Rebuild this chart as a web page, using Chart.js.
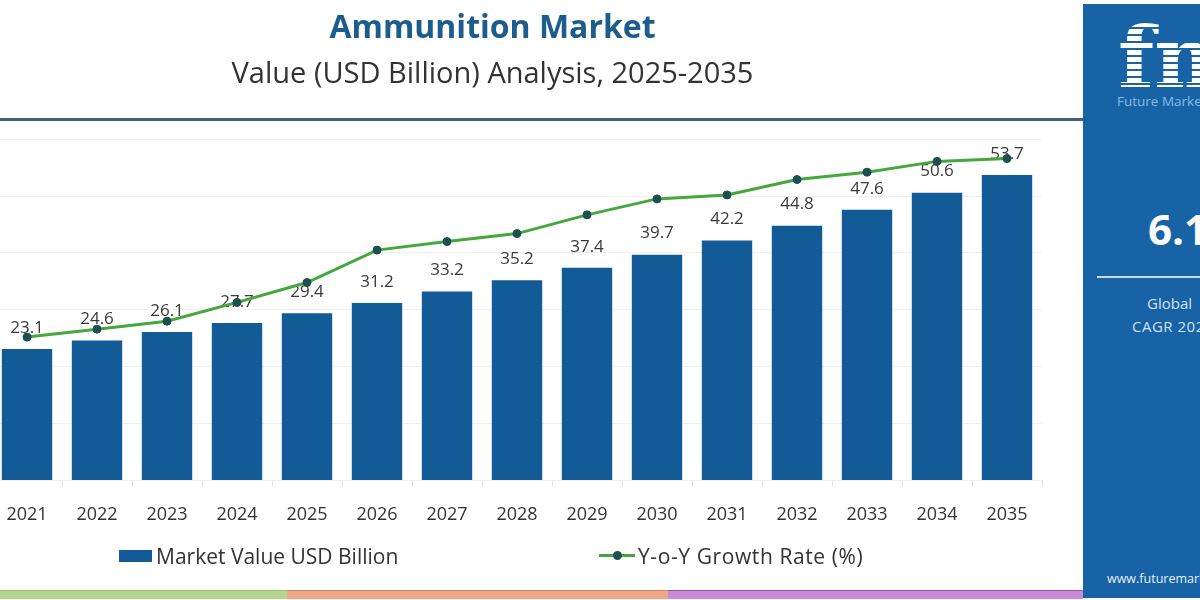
<!DOCTYPE html>
<html>
<head>
<meta charset="utf-8">
<script src="https://cdn.jsdelivr.net/npm/chart.js@4/dist/chart.umd.min.js"></script>
<style>
	body { margin: 0; width: 1200px; height: 600px; overflow: hidden; background: #fff; position: relative; font-family: "Open Sans", sans-serif; }
	#chart-wrap { position: absolute; left: -62px; top: 0; width: 1109px; height: 558px; }
	#rule { position: absolute; left: 0; top: 118px; width: 1083px; height: 3px; background: #41627f; }
	.strip { position: absolute; top: 590px; height: 8px; }
	#legend .item { position: absolute; top: 543px; height: 26px; line-height: 26px; font-size: 21px; color: #333; white-space: nowrap; }
	#legend .box { position: absolute; top: 7px; width: 33px; height: 12px; }
	#legend .ln { position: absolute; top: 11px; width: 36px; height: 3px; }
	#legend .dot { position: absolute; top: 8px; left: 14px; width: 9px; height: 9px; border-radius: 50%; }
	#panel { position: absolute; left: 1083px; top: 4px; width: 117px; height: 594px; background: #1863a6; overflow: hidden; color: #fff; }
	#panel div { position: absolute; white-space: nowrap; }
	#logo { left: 35px; top: 4px; font: bold 84px "DejaVu Serif", serif; background: repeating-linear-gradient(to bottom, #fff 0 5px, #1863a6 5px 7px); -webkit-background-clip: text; background-clip: text; color: transparent; }
</style>
</head>
<body>
<div id="chart-wrap"><canvas id="marketChart"></canvas></div>
<div id="rule"></div>
<div id="legend"></div>
<div class="strip" style="left:0;width:287px;background:#b3d58e;border-top:1px solid #98c06f"></div>
<div class="strip" style="left:287px;width:381px;background:#efa78a;border-top:1px solid #d8815f"></div>
<div class="strip" style="left:668px;width:415px;background:#c98ad6;border-top:1px solid #9a55ab"></div>
<div id="panel">
	<div id="logo">fmi</div>
	<div style="left:34px;top:88px;font-size:13.5px;color:#86bbe8">Future Market Insights</div>
	<div style="left:65px;top:196px;font-size:42px;font-weight:bold">6.1%</div>
	<div style="left:14px;top:272px;width:120px;height:2px;background:#c4dcf2"></div>
	<div style="left:64px;top:289px;font-size:15px;color:#cfe2f4">Global</div>
	<div style="left:49px;top:312px;font-size:15px;color:#cfe2f4;letter-spacing:0.5px">CAGR 2025-2035</div>
	<div style="left:24px;top:566px;font-size:12.5px;color:#e6f0fa">www.futuremarketinsights.com</div>
</div>
<script>
// values
var years = ['2021', '2022', '2023', '2024', '2025', '2026', '2027', '2028', '2029', '2030', '2031', '2032', '2033', '2034', '2035'];
var marketValue = [23.1, 24.6, 26.1, 27.7, 29.4, 31.2, 33.2, 35.2, 37.4, 39.7, 42.2, 44.8, 47.6, 50.6, 53.7];
// growth line has no printed values, plotted on a hidden axis by its position
var yoyGrowth = [25.2, 26.6, 28.0, 31.3, 34.8, 40.5, 42.0, 43.4, 46.7, 49.5, 50.2, 52.9, 54.2, 56.1, 56.6];

var barColor = '#135b96';
var lineColor = '#44a83e';
var dotColor = '#1d4f50';

Chart.defaults.font.family = '"Open Sans", sans-serif';

var barLabels = {
	id: 'barLabels',
	afterDatasetDraw: function(chart, args) {
		if(args.index !== 1) { return; }
		var ctx = chart.ctx;
		ctx.save();
		ctx.font = '17px "Open Sans"';
		ctx.fillStyle = '#3a3a3a';
		ctx.textAlign = 'center';
		ctx.textBaseline = 'middle';
		args.meta.data.forEach(function(bar, i) {
			ctx.fillText(marketValue[i].toFixed(1), bar.x, bar.y - 21);
		});
		ctx.restore();
	}
};

var ctx = document.getElementById('marketChart').getContext('2d');
var chart = new Chart(ctx, {
	type: 'bar',
	data: {
		labels: years,
		datasets: [{
			type: 'line',
			label: 'Y-o-Y Growth Rate (%)',
			data: yoyGrowth,
			yAxisID: 'y2',
			order: 0,
			borderColor: lineColor,
			borderWidth: 3,
			tension: 0,
			pointRadius: 4,
			pointBackgroundColor: dotColor,
			pointBorderColor: dotColor,
			pointBorderWidth: 1
		}, {
			label: 'Market Value USD Billion',
			data: marketValue,
			yAxisID: 'y',
			order: 1,
			backgroundColor: barColor,
			categoryPercentage: 1,
			barPercentage: 0.72
		}]
	},
	options: {
		responsive: true,
		maintainAspectRatio: false,
		animation: false,
		layout: { padding: { left: 0, right: 0, top: 0, bottom: 14 } },
		plugins: {
			legend: { display: false },
			tooltip: { enabled: false },
			title: {
				display: true,
				text: 'Ammunition Market',
				color: '#1d5d8e',
				font: { size: 32, weight: 'bold' },
				padding: { top: 10, bottom: 0 }
			},
			subtitle: {
				display: true,
				text: 'Value (USD Billion) Analysis, 2025-2035',
				color: '#333',
				font: { size: 29 },
				padding: { top: 9, bottom: 47 }
			}
		},
		scales: {
			x: {
				grid: { drawOnChartArea: false, drawTicks: true, tickLength: 6, color: '#e2e2e2' },
				border: { display: false },
				ticks: { color: '#333', font: { size: 18 }, padding: 18, maxRotation: 0, autoSkip: false }
			},
			y: {
				min: 0,
				max: 60,
				ticks: { display: false, stepSize: 10 },
				grid: { color: '#efefef', drawTicks: false },
				border: { display: false },
				afterFit: function(scale) { scale.width = 54; }
			},
			y2: {
				display: false,
				min: 0,
				max: 60
			}
		}
	},
	plugins: [barLabels]
});

// legend built from the datasets
var legend = document.getElementById('legend');
var barItem = '<div class="item" style="left:119px"><span class="box" style="left:0;background:' + barColor + '"></span><span style="position:absolute;left:37px">' + chart.data.datasets[1].label + '</span></div>';
var lineItem = '<div class="item" style="left:599px"><span class="ln" style="left:0;background:' + lineColor + '"></span><span class="dot" style="background:' + dotColor + '"></span><span style="position:absolute;left:39px;letter-spacing:0.6px">' + chart.data.datasets[0].label + '</span></div>';
legend.innerHTML = barItem + lineItem;
</script>
</body>
</html>
